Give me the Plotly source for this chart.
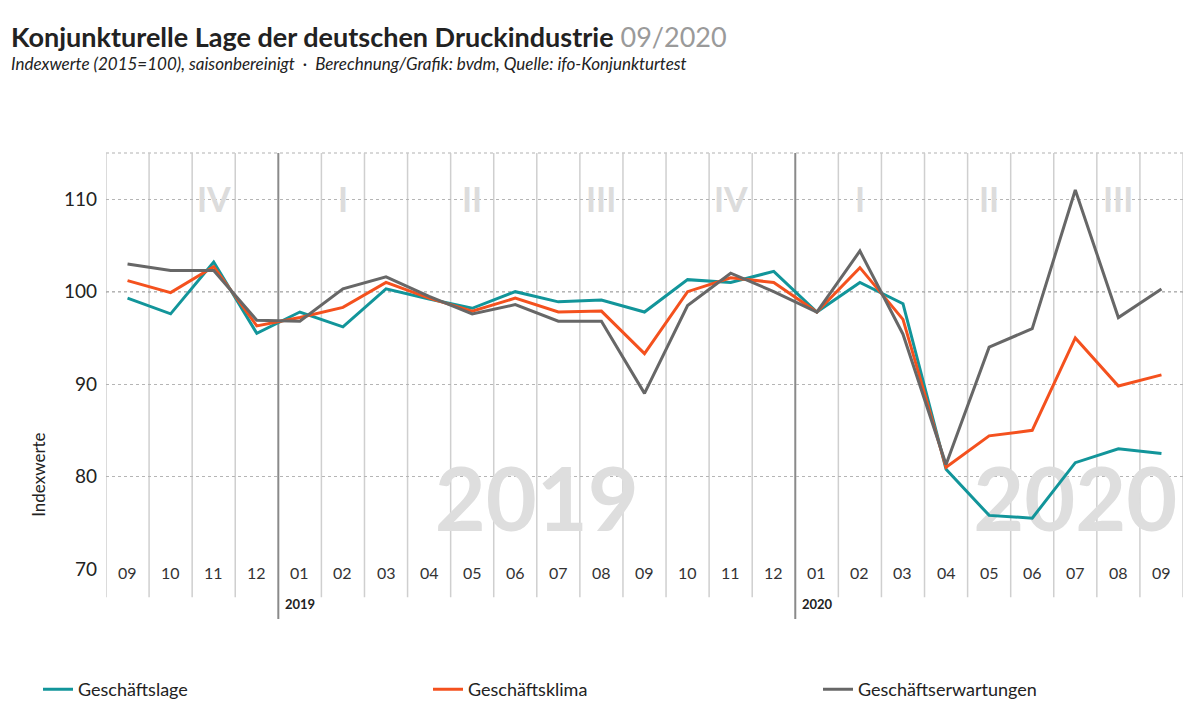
import plotly.graph_objects as go

months = ["09", "10", "11", "12", "01", "02", "03", "04", "05", "06", "07", "08",
          "09", "10", "11", "12", "01", "02", "03", "04", "05", "06", "07", "08", "09"]
lage = [99.3, 97.6, 103.2, 95.5, 97.8, 96.2, 100.3, 99.2, 98.2, 100.0, 98.9, 99.1,
        97.8, 101.3, 101.0, 102.2, 97.8, 101.0, 98.7, 80.8, 75.8, 75.5, 81.5, 83.0, 82.5]
klima = [101.2, 99.9, 102.7, 96.3, 97.2, 98.3, 101.0, 99.3, 97.9, 99.3, 97.8, 97.9,
         93.3, 100.0, 101.5, 101.0, 97.8, 102.6, 97.0, 81.0, 84.4, 85.0, 95.0, 89.8, 91.0]
erwartungen = [103.0, 102.3, 102.3, 96.9, 96.8, 100.3, 101.6, 99.5, 97.6, 98.6, 96.8, 96.8,
               89.0, 98.5, 102.0, 100.0, 97.8, 104.4, 95.4, 81.3, 94.0, 96.0, 111.0, 97.2, 100.3]
quarters = ["IV", "I", "II", "III", "IV", "I", "II", "III"]
quarter_pos = [2, 5, 8, 11, 14, 17, 20, 23]
years = [("2019", 4), ("2020", 16)]

x = list(range(len(months)))
FONT = "Lato"
fig = go.Figure()

# big year watermarks, drawn first so they sit under the lines
fig.add_trace(go.Scatter(x=[9.5, 22], y=[76.5, 76.5], mode="text",
                         text=["<b>2019</b>", "<b>2020</b>"],
                         textfont=dict(size=88, color="#dedede", family=FONT),
                         showlegend=False, hoverinfo="skip"))

for name, vals, col in [("Geschäftslage", lage, "#12959a"),
                        ("Geschäftsklima", klima, "#f4511e"),
                        ("Geschäftserwartungen", erwartungen, "#676767")]:
    fig.add_trace(go.Scatter(x=x, y=vals, mode="lines", name=name,
                             line=dict(color=col, width=3)))

shapes = []
# column separators
for i in range(len(months) + 1):
    xb = i - 0.5
    year_line = i in (4, 16)
    shapes.append(dict(type="line", xref="x", yref="paper", x0=xb, x1=xb,
                       y0=-0.12 if year_line else -0.068, y1=1,
                       line=dict(color="#8a8a8a" if year_line else "#cfcfcf",
                                 width=2 if year_line else 1.5), layer="below"))
shapes.append(dict(type="line", xref="paper", yref="paper", x0=0, x1=1, y0=1, y1=1,
                   line=dict(color="#cccccc", width=1.5, dash="dot")))
fig.update_layout(shapes=shapes)

ann = []
for i, m in enumerate(months):
    ann.append(dict(x=i, y=-0.035, xref="x", yref="paper", text=m, showarrow=False,
                    font=dict(size=16, color="#333333", family=FONT)))
for q, p in zip(quarters, quarter_pos):
    ann.append(dict(x=p, y=0.945, xref="x", yref="paper", text="<b>%s</b>" % q,
                    showarrow=False, font=dict(size=34, color="#dcdcdc", family=FONT)))
for label, p in years:
    ann.append(dict(x=p - 0.4, y=-0.108, xref="x", yref="paper", text="<b>%s</b>" % label,
                    xanchor="left", showarrow=False,
                    font=dict(size=13, color="#222222", family=FONT)))
ann.append(dict(x=-0.075, y=0.12, xref="paper", yref="paper", text="Indexwerte",
                textangle=-90, showarrow=False, font=dict(size=17, color="#222222", family=FONT)))
ann.append(dict(x=-0.09, y=1.325, xref="paper", yref="paper", xanchor="left", yanchor="top",
                text="<b>Konjunkturelle Lage der deutschen Druckindustrie</b> "
                     "<span style='color:#9a9a9a'>09/2020</span>",
                showarrow=False, font=dict(size=27, color="#222222", family=FONT)))
ann.append(dict(x=-0.09, y=1.245, xref="paper", yref="paper", xanchor="left", yanchor="top",
                text="<i>Indexwerte (2015=100), saisonbereinigt  ·  Berechnung/Grafik: bvdm, "
                     "Quelle: ifo-Konjunkturtest</i>",
                showarrow=False, font=dict(size=17, color="#222222", family=FONT)))
fig.update_layout(annotations=ann)

fig.update_layout(
    width=1200, height=712,
    margin=dict(l=98, r=25, t=145, b=139),
    plot_bgcolor="white", paper_bgcolor="white",
    font=dict(family=FONT, color="#222222"),
    xaxis=dict(range=[-0.5, 24.5], showticklabels=False, showgrid=False, zeroline=False),
    yaxis=dict(range=[70, 115], tickvals=[70, 80, 90, 100, 110], ticks="",
               tickfont=dict(size=19, color="#222222"), gridcolor="#b5b5b5",
               griddash="dot", zeroline=False, ticklabelstandoff=8),
    legend=dict(orientation="h", x=-0.01, y=-0.29, xanchor="left", yanchor="middle",
                entrywidth=345, font=dict(size=18, color="#222222")),
)
fig.add_hline(y=100, line=dict(color="#555555", width=1.2, dash="dot"), layer="below")

fig.write_html("out.html")
